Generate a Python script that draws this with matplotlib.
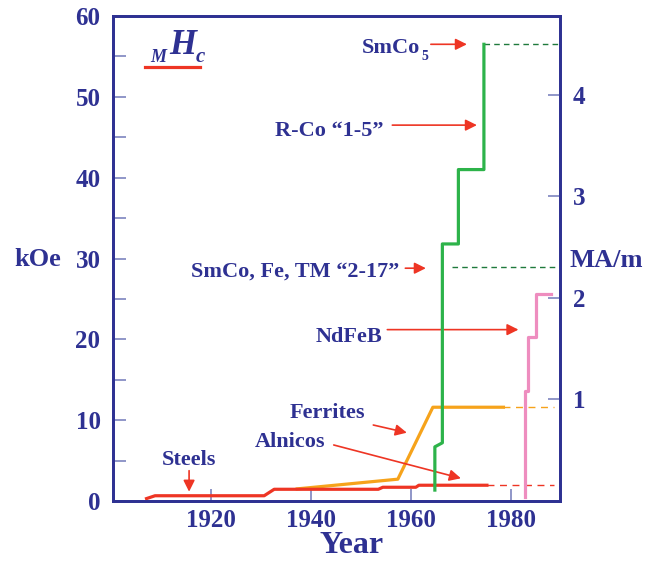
import numpy as np
import matplotlib.pyplot as plt

# Coercivité des aimants permanents au cours du XXe siècle
navy = '#2e3192'
tick_col = '#7d84bf'
red = '#ee3524'
orange = '#f6a31b'
green = '#2db34a'
pink = '#ee8dbf'

# Aciers puis Alnicos (kOe)
red_years = [1907.2, 1908.9, 1930.7, 1932.7, 1953.5, 1954.4, 1961.0, 1961.6, 1975.2]
red_koe = [0.3, 0.65, 0.65, 1.45, 1.45, 1.7, 1.7, 1.95, 1.95]
red_ext = [1975.2, 1988.6]

# Ferrites
fer_years = [1937.3, 1957.4, 1964.4, 1978.5]
fer_koe = [1.5, 2.7, 11.6, 11.6]
fer_ext = [1978.5, 1988.6]

# SmCo (1-5 puis 2-17)
smco_years = [1964.8, 1964.8, 1966.3, 1966.3, 1969.5, 1969.5, 1974.6, 1974.6]
smco_koe = [1.35, 6.7, 7.2, 31.8, 31.8, 41.0, 41.0, 56.5]
smco5_level = 56.5
smco217_level = 29.0
smco217_start = 1968.2

# NdFeB
nd_years = [1982.8, 1982.8, 1983.5, 1983.5, 1985.1, 1985.1, 1988.0]
nd_koe = [0.45, 13.6, 13.6, 20.3, 20.3, 25.6, 25.6]

koe_per_mam = 4 * np.pi  # 1 MA/m = 12.566 kOe
year_ticks = [1920, 1940, 1960, 1980]
koe_ticks = np.arange(0, 61, 5)
mam_ticks = [1, 2, 3, 4]

plt.rcParams['font.family'] = ['Liberation Serif', 'DejaVu Serif']
plt.rcParams['font.weight'] = 'bold'

fig = plt.figure(figsize=(6.63, 5.61), dpi=100)
ax = fig.add_axes([113 / 663, 1 - 501 / 561, (560 - 113) / 663, (501 - 16) / 561])
ax.set_xlim(1900.5, 1989.8)
ax.set_ylim(0, 60)

# courbes
ax.plot(red_years, red_koe, color=red, lw=2.3, zorder=4)
ax.plot(red_ext, [red_koe[-1]] * 2, color=red, lw=1.0, ls=(0, (5, 4)), zorder=3)
ax.plot(fer_years, fer_koe, color=orange, lw=2.3, zorder=3)
ax.plot(fer_ext, [fer_koe[-1]] * 2, color=orange, lw=1.0, ls=(0, (5, 4)), zorder=3)
ax.plot(smco_years, smco_koe, color=green, lw=2.3, zorder=5)
ax.plot([smco_years[-1], 1989.8], [smco5_level] * 2, color='#1f7a3c', lw=1.0,
        ls=(0, (4, 3)), zorder=3)
ax.plot([smco217_start, 1989.8], [smco217_level] * 2, color='#1f7a3c', lw=1.0,
        ls=(0, (4, 3)), zorder=3)
ax.plot(nd_years, nd_koe, color=pink, lw=2.3, zorder=5)

# axes et graduations
for s in ax.spines.values():
    s.set_color(navy)
    s.set_linewidth(2.0)
ax.set_yticks(koe_ticks)
ax.set_yticklabels([str(v) if v % 10 == 0 else '' for v in koe_ticks])
ax.set_xticks(year_ticks)
ax.tick_params(direction='in', length=9, width=1.2, color=tick_col,
               labelcolor=navy, labelsize=18, pad=9)
ax.tick_params(axis='x', pad=6)

ax2 = ax.twinx()
ax2.set_ylim(0, 60 / koe_per_mam)
ax2.set_yticks(mam_ticks)
ax2.tick_params(direction='in', length=9, width=1.2, color=tick_col,
                labelcolor=navy, labelsize=18, pad=9)
for s in ax2.spines.values():
    s.set_color(navy)
    s.set_linewidth(2.0)

fig.text(14 / 663, 1 - 266 / 561, 'kOe', color=navy, fontsize=19, fontweight='bold')
fig.text(570 / 663, 1 - 267 / 561, 'MA/m', color=navy, fontsize=19, fontweight='bold')
fig.text(352 / 663, 1 - 553 / 561, 'Year', color=navy, fontsize=23, fontweight='bold',
         ha='center')

# symbole MHc souligné
ax.text(1907.9, 54.37, 'M', color=navy, fontsize=13, style='italic', fontweight='bold')
ax.text(1911.8, 55.28, 'H', color=navy, fontsize=25, style='italic', fontweight='bold')
ax.text(1917.1, 54.37, 'c', color=navy, fontsize=15, style='italic', fontweight='bold')
ax.plot([1906.9, 1917.8], [53.7, 53.7], color=red, lw=2.3)

# étiquettes et flèches
arrow = dict(arrowstyle='-|>', color=red, lw=1.2, mutation_scale=17, shrinkA=0, shrinkB=0)
labels = [
    ('SmCo', 1961.8, 55.4, 'right', (1964.0, 56.5), (1971.2, 56.5)),
    ('R-Co \u201c1-5\u201d', 1954.5, 45.1, 'right', (1956.3, 46.5), (1973.2, 46.5)),
    ('SmCo, Fe, TM \u201c2-17\u201d', 1957.6, 27.76, 'right', (1958.9, 28.8), (1963.0, 28.8)),
    ('NdFeB', 1954.3, 19.7, 'right', (1955.3, 21.2), (1981.5, 21.2)),
    ('Ferrites', 1943.4, 10.23, 'center', (1952.5, 9.4), (1959.2, 8.45)),
    ('Alnicos', 1935.8, 6.72, 'center', (1944.6, 6.93), (1970.0, 2.81)),
    ('Steels', 1915.7, 4.46, 'center', (1915.7, 3.75), (1915.7, 1.15)),
]
for txt, tx, ty, ha, tail, tip in labels:
    ax.text(tx, ty, txt, color=navy, fontsize=16, fontweight='bold', ha=ha, va='baseline')
    ax.annotate('', xy=tip, xytext=tail, arrowprops=arrow)
ax.text(1962.2, 54.6, '5', color=navy, fontsize=10, fontweight='bold', va='baseline')

plt.savefig('out.png', dpi=100)
